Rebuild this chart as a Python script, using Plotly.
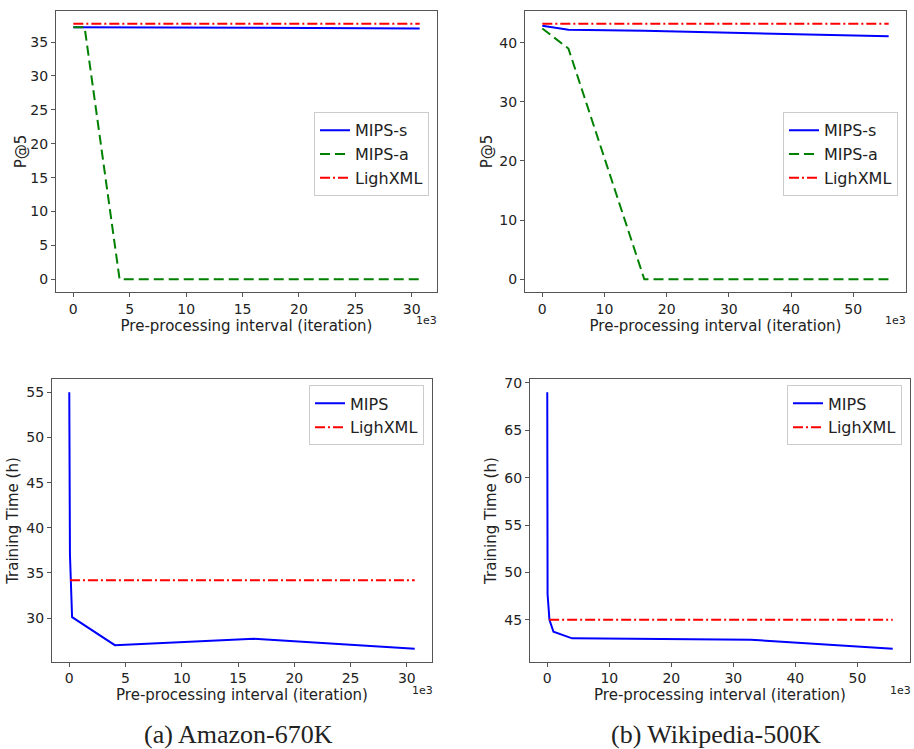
import plotly.graph_objects as go

# ---------------- data (x in units of 1e3 iterations) ----------------
# (a) Amazon-670K, P@5
a_mips_s_x = [0, 4.1, 16.4, 30.7]
a_mips_s_y = [37.2, 37.2, 37.1, 37.0]
a_mips_a_x = [0, 1.0, 4.1, 16.4, 30.7]
a_mips_a_y = [37.2, 37.2, 0.0, 0.0, 0.0]
a_light_x = [0, 30.7]
a_light_y = [37.7, 37.7]

# (b) Wikipedia-500K, P@5
b_mips_s_x = [0, 4.2, 16.4, 32.8, 55.7]
b_mips_s_y = [42.85, 42.2, 42.0, 41.6, 41.1]
b_mips_a_x = [0, 4.2, 16.4, 32.8, 55.7]
b_mips_a_y = [42.4, 39.0, 0.0, 0.0, 0.0]
b_light_x = [0, 55.7]
b_light_y = [43.2, 43.2]

# (a) Amazon-670K, training time
a_time_x = [0, 0.06, 0.25, 4.05, 16.4, 30.7]
a_time_y = [55.0, 37.0, 30.1, 27.0, 27.7, 26.6]
a_time_light_x = [0.06, 30.7]
a_time_light_y = [34.2, 34.2]

# (b) Wikipedia-500K, training time
b_time_x = [0, 0.05, 0.35, 1.0, 4.0, 32.8, 55.7]
b_time_y = [69.0, 47.7, 45.0, 43.75, 43.05, 42.9, 41.95]
b_time_light_x = [0.3, 55.7]
b_time_light_y = [45.0, 45.0]

xlabel = "Pre-processing interval (iteration)"
captions = ["(a) Amazon-670K", "(b) Wikipedia-500K"]

W, H = 914, 749
BLUE, GREEN, RED = "#0000ff", "#008000", "#ff0000"
TXT = "#222222"
SPINE = "#555555"
DASH = "10px,5px"
DASHDOT = "10px,3px,2px,3px"

def px_x(p):
    return p / W

def px_y(p):
    return 1 - p / H

def rng(vals):
    lo, hi = min(vals), max(vals)
    m = 0.05 * (hi - lo)
    return [lo - m, hi + m]

fig = go.Figure()

panels = [
    ("", (56, 437), (6, 289), "legend"),
    ("2", (525, 906), (6, 289), "legend2"),
    ("3", (52, 432), (377, 661), "legend3"),
    ("4", (530, 910), (377, 661), "legend4"),
]

series = [
    [("MIPS-s", a_mips_s_x, a_mips_s_y, BLUE, "solid"),
     ("MIPS-a", a_mips_a_x, a_mips_a_y, GREEN, DASH),
     ("LighXML", a_light_x, a_light_y, RED, DASHDOT)],
    [("MIPS-s", b_mips_s_x, b_mips_s_y, BLUE, "solid"),
     ("MIPS-a", b_mips_a_x, b_mips_a_y, GREEN, DASH),
     ("LighXML", b_light_x, b_light_y, RED, DASHDOT)],
    [("MIPS", a_time_x, a_time_y, BLUE, "solid"),
     ("LighXML", a_time_light_x, a_time_light_y, RED, DASHDOT)],
    [("MIPS", b_time_x, b_time_y, BLUE, "solid"),
     ("LighXML", b_time_light_x, b_time_light_y, RED, DASHDOT)],
]

ytitles = ["P@5", "P@5", "Training Time (h)", "Training Time (h)"]
ystandoff = [0, 3, 4, 4]
ydticks = [5, 10, 5, 5]
xdticks = [5, 10, 5, 10]

legend_boxes = [(429, 108), (898, 108), (424, 383), (902, 383)]

for i, ((ax, dx, dy, lg), ser) in enumerate(zip(panels, series)):
    allx, ally = [], []
    for name, xs, ys, col, dash in ser:
        allx += xs
        ally += ys
        fig.add_trace(go.Scatter(
            x=xs, y=ys, mode="lines", name=name,
            line=dict(color=col, width=2, dash=dash),
            xaxis="x" + ax, yaxis="y" + ax, legend=lg,
        ))
    common = dict(
        showline=True, mirror=True, linecolor=SPINE, linewidth=1,
        ticks="outside", ticklen=4, tickcolor=SPINE, tickwidth=1,
        showgrid=False, zeroline=False,
        tickfont=dict(family="DejaVu Sans", size=14, color=TXT),
    )
    fig.layout["xaxis" + ax] = dict(
        domain=[px_x(dx[0]), px_x(dx[1])],
        anchor="y" + ax, range=rng(allx), dtick=xdticks[i], tick0=0,
        title=dict(text=xlabel, standoff=3,
                   font=dict(family="DejaVu Sans", size=15, color=TXT)),
        **common,
    )
    fig.layout["yaxis" + ax] = dict(
        domain=[px_y(dy[1]), px_y(dy[0])],
        anchor="x" + ax, range=rng(ally), dtick=ydticks[i], tick0=0,
        title=dict(text=ytitles[i], standoff=ystandoff[i],
                   font=dict(family="DejaVu Sans", size=15, color=TXT)),
        **common,
    )
    lx, ly = legend_boxes[i]
    fig.layout[lg] = dict(
        x=px_x(lx), y=px_y(ly), xanchor="right", yanchor="top",
        xref="paper", yref="paper",
        bgcolor="rgba(255,255,255,0.9)", bordercolor="#cccccc", borderwidth=1,
        font=dict(family="DejaVu Sans", size=16, color=TXT),
        tracegroupgap=0, itemwidth=30,
    )

# "1e3" offset labels
for xp, yp in [(426, 318), (895, 318), (422, 690), (900, 690)]:
    fig.add_annotation(text="1e3", x=px_x(xp), y=px_y(yp), xref="paper", yref="paper",
                       showarrow=False, xanchor="center", yanchor="middle",
                       font=dict(family="DejaVu Sans", size=11, color=TXT))

# sub-figure captions
for cx, text in zip([238, 716], captions):
    fig.add_annotation(text=text, x=px_x(cx), y=px_y(734), xref="paper", yref="paper",
                       showarrow=False, xanchor="center", yanchor="middle",
                       font=dict(family="Liberation Serif", size=26, color=TXT))

fig.update_layout(
    width=W, height=H,
    margin=dict(l=0, r=0, t=0, b=0),
    paper_bgcolor="white", plot_bgcolor="white",
    showlegend=True,
)

fig.write_html("out.html")
